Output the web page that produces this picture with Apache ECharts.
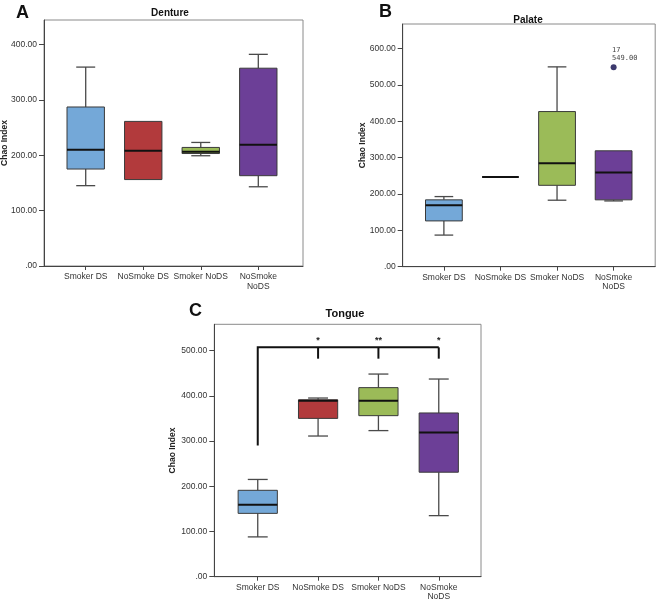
<!DOCTYPE html>
<html>
<head>
<meta charset="utf-8">
<script src="https://cdn.jsdelivr.net/npm/echarts@6/dist/echarts.min.js"></script>
<style>
html,body{margin:0;padding:0;background:#fff;}
#c{width:656px;height:601px;}
</style>
</head>
<body>
<div id="c"></div>
<script>
// ---- data ----
const categories = ['Smoker DS', 'NoSmoke DS', 'Smoker NoDS', 'NoSmoke\nNoDS'];
const yTicksA = [0, 100, 200, 300, 400];
const yTicksB = [0, 100, 200, 300, 400, 500, 600];
const yTicksC = [0, 100, 200, 300, 400, 500];
// [low whisker, Q1, median, Q3, high whisker]
const dentureStats = [
  [145, 175, 210, 287, 359],
  [156, 156, 208, 261, 261],
  [199, 203, 206, 214, 223],
  [143, 163, 219, 357, 382]
];
const palateStats = [
  [87, 126, 169, 184, 193],
  [247, 247, 247, 247, 247],
  [183, 224, 285, 427, 550],
  [181, 184, 259, 319, 319]
];
const palateOutlierCat = [3];
const palateOutlierCase = ['17'];
const palateOutlierValue = [549];
const tongueStats = [
  [88, 140, 159, 191, 215],
  [311, 350, 389, 391, 395],
  [323, 356, 389, 418, 448],
  [135, 231, 319, 362, 437]
];
// significance bracket (Tongue)
const bracketFrom = 0;
const bracketTo = [1, 2, 3];
const bracketTop = 507;
const bracketFromBottom = 290;
const bracketToBottom = 482;
const bracketStars = ['*', '**', '*'];
const starValue = 522;

const boxColors = ['#74a8d8', '#b23a3c', '#9bbb58', '#6c3f97'];
const BOX_W = 0.65, CAP_W = 0.33;

function boxData(stats) {
  return stats.map((s, i) => [i].concat(s));
}

function renderBox(params, api) {
  const i = api.value(0);
  const lo = api.value(1), q1 = api.value(2), md = api.value(3), q3 = api.value(4), hi = api.value(5);
  const hw = BOX_W / 2, cw = CAP_W / 2;
  const ch = [];
  const wStyle = { stroke: '#4a4a4a', lineWidth: 1.3 };
  if (hi - q3 > 0.5) {
    const a = api.coord([i, q3]), b = api.coord([i, hi]);
    ch.push({ type: 'line', shape: { x1: a[0], y1: a[1], x2: b[0], y2: b[1] }, style: wStyle });
    const c1 = api.coord([i - cw, hi]), c2 = api.coord([i + cw, hi]);
    ch.push({ type: 'line', shape: { x1: c1[0], y1: c1[1], x2: c2[0], y2: c2[1] }, style: wStyle });
  }
  if (q1 - lo > 0.5) {
    const a = api.coord([i, q1]), b = api.coord([i, lo]);
    ch.push({ type: 'line', shape: { x1: a[0], y1: a[1], x2: b[0], y2: b[1] }, style: wStyle });
    const c1 = api.coord([i - cw, lo]), c2 = api.coord([i + cw, lo]);
    ch.push({ type: 'line', shape: { x1: c1[0], y1: c1[1], x2: c2[0], y2: c2[1] }, style: wStyle });
  }
  const tl = api.coord([i - hw, q3]), br = api.coord([i + hw, q1]);
  if (q3 - q1 > 0.5) {
    ch.push({ type: 'rect', shape: { x: tl[0], y: tl[1], width: br[0] - tl[0], height: br[1] - tl[1] },
      style: { fill: boxColors[i], stroke: '#3a3a3a', lineWidth: 1 } });
  }
  const m1 = api.coord([i - hw, md]), m2 = api.coord([i + hw, md]);
  ch.push({ type: 'line', shape: { x1: m1[0], y1: m1[1], x2: m2[0], y2: m2[1] }, style: { stroke: '#111', lineWidth: 2 } });
  return { type: 'group', children: ch };
}

function renderBracket(params, api) {
  const ch = [];
  const st = { stroke: '#111', lineWidth: 2, fill: null };
  const last = bracketTo[bracketTo.length - 1];
  const p0 = api.coord([bracketFrom, bracketFromBottom]);
  const p1 = api.coord([bracketFrom, bracketTop]);
  const p2 = api.coord([last, bracketTop]);
  ch.push({ type: 'polyline', shape: { points: [p0, p1, p2] }, style: st });
  bracketTo.forEach((t, k) => {
    const a = api.coord([t, bracketTop]), b = api.coord([t, bracketToBottom]);
    ch.push({ type: 'line', shape: { x1: a[0], y1: a[1], x2: b[0], y2: b[1] }, style: st });
    const s = api.coord([t, starValue]);
    ch.push({ type: 'text', x: s[0], y: s[1], style: { text: bracketStars[k], fill: '#222', font: 'bold 9px "Liberation Sans", Arial', align: 'center', verticalAlign: 'middle' } });
  });
  return { type: 'group', children: ch };
}

function renderOutlier(params, api) {
  const i = api.value(0), v = api.value(1);
  const p = api.coord([i, v]);
  return { type: 'group', children: [
    { type: 'circle', shape: { cx: p[0], cy: p[1], r: 3 }, style: { fill: '#3d3a6e' } },
    { type: 'text', x: p[0] - 1.5, y: p[1] - 5, style: { text: palateOutlierCase[params.dataIndex] + '\n' + palateOutlierValue[params.dataIndex].toFixed(2), fill: '#444', font: '7px "DejaVu Sans Mono", monospace', lineHeight: 8, align: 'left', verticalAlign: 'bottom' } }
  ] };
}

const fontFam = '"Liberation Sans", Arial, sans-serif';
function fmtY(v) { return v === 0 ? '.00' : v.toFixed(2); }

const grids = [
  { left: 44, top: 20, width: 259, height: 246 },
  { left: 402.7, top: 24, width: 252.5, height: 242.7 },
  { left: 214.3, top: 324.3, width: 266.7, height: 252.4 }
];
const xRanges = [[-0.725, 3.777], [-0.728, 3.735], [-0.72, 3.70]];
const yMax = [444, 668, 558];
const yTicks = [yTicksA, yTicksB, yTicksC];
const nameGaps = [35, 36, 37];

const option = {
  animation: false,
  backgroundColor: '#fff',
  title: [
    { text: 'A', left: 11, top: -1, textStyle: { fontSize: 18, fontWeight: 'bold', color: '#111', fontFamily: fontFam } },
    { text: 'B', left: 374, top: -2, textStyle: { fontSize: 18, fontWeight: 'bold', color: '#111', fontFamily: fontFam } },
    { text: 'C', left: 184, top: 297, textStyle: { fontSize: 18, fontWeight: 'bold', color: '#111', fontFamily: fontFam } },
    { text: 'Denture', left: 165, top: 3, textAlign: 'center', textStyle: { fontSize: 10, fontWeight: 'bold', color: '#111', fontFamily: fontFam } },
    { text: 'Palate', left: 523, top: 10, textAlign: 'center', textStyle: { fontSize: 10, fontWeight: 'bold', color: '#111', fontFamily: fontFam } },
    { text: 'Tongue', left: 340, top: 303, textAlign: 'center', textStyle: { fontSize: 11, fontWeight: 'bold', color: '#111', fontFamily: fontFam } }
  ],
  grid: grids.map(g => Object.assign({ show: true, borderColor: '#8a8a8a', borderWidth: 1, backgroundColor: 'transparent', containLabel: false, outerBoundsMode: 'none' }, g)),
  xAxis: grids.map((g, k) => ({
    type: 'value', gridIndex: k, min: xRanges[k][0], max: xRanges[k][1],
    splitLine: { show: false },
    axisLine: { show: true, onZero: false, lineStyle: { color: '#444', width: 1 } },
    axisTick: { show: true, length: 4, lineStyle: { color: '#444' }, customValues: [0, 1, 2, 3] },
    axisLabel: { customValues: [0, 1, 2, 3], margin: 6, fontSize: 8.5, color: '#333', fontFamily: fontFam, lineHeight: 9.5,
      formatter: v => categories[Math.round(v)] }
  })),
  yAxis: grids.map((g, k) => ({
    type: 'value', gridIndex: k, min: 0, max: yMax[k],
    name: 'Chao Index', nameLocation: 'middle', nameGap: nameGaps[k], nameRotate: 90, nameMoveOverlap: false,
    nameTextStyle: { fontSize: 8.5, fontWeight: 'bold', color: '#222', fontFamily: fontFam },
    splitLine: { show: false },
    axisLine: { show: true, onZero: false, lineStyle: { color: '#444', width: 1 } },
    axisTick: { show: true, length: 5, lineStyle: { color: '#444' }, customValues: yTicks[k] },
    axisLabel: { customValues: yTicks[k], margin: 7, fontSize: 8.5, color: '#333', fontFamily: fontFam, formatter: fmtY }
  })),
  series: [
    { type: 'custom', xAxisIndex: 0, yAxisIndex: 0, data: boxData(dentureStats), renderItem: renderBox, encode: { x: 0, y: [1, 2, 3, 4, 5] }, silent: true },
    { type: 'custom', xAxisIndex: 1, yAxisIndex: 1, data: boxData(palateStats), renderItem: renderBox, encode: { x: 0, y: [1, 2, 3, 4, 5] }, silent: true },
    { type: 'custom', xAxisIndex: 1, yAxisIndex: 1, data: palateOutlierCat.map((c, k) => [c, palateOutlierValue[k]]), renderItem: renderOutlier, encode: { x: 0, y: 1 }, silent: true },
    { type: 'custom', xAxisIndex: 2, yAxisIndex: 2, data: boxData(tongueStats), renderItem: renderBox, encode: { x: 0, y: [1, 2, 3, 4, 5] }, silent: true },
    { type: 'custom', xAxisIndex: 2, yAxisIndex: 2, data: [[bracketFrom, bracketTop]], renderItem: renderBracket, encode: { x: 0, y: 1 }, silent: true }
  ]
};
const chart = echarts.init(document.getElementById('c'));
chart.setOption(option);
</script>
</body>
</html>
